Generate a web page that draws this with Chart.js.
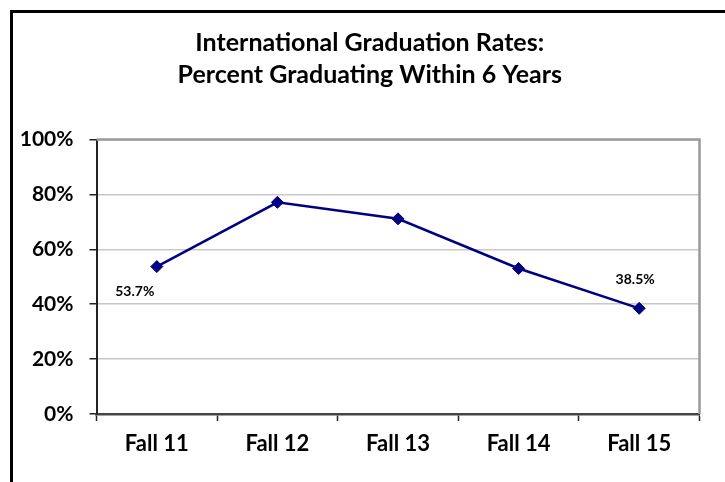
<!DOCTYPE html>
<html>
<head>
<meta charset="utf-8">
<script src="https://cdn.jsdelivr.net/npm/chart.js@4.4.1/dist/chart.umd.min.js"></script>
<style>
  html, body { margin: 0; padding: 0; background: #fff; }
</style>
</head>
<body>
<canvas id="grad-chart" width="725" height="482"></canvas>
<script>
// datos
var terms = ['Fall 11', 'Fall 12', 'Fall 13', 'Fall 14', 'Fall 15'];
var gradRates = [53.7, 77.1, 71.1, 53.0, 38.5];
var pointLabels = ['53.7%', '', '', '', '38.5%'];
var yTickValues = [0, 20, 40, 60, 80, 100];

var fontFam = 'Lato, "DejaVu Sans", sans-serif';

// marco negro (solo izquierda y arriba visibles) + borde gris del area
var framePlugin = {
    id: 'frame',
    afterLayout: function (chart) {
        // el titulo original esta un poco corrido a la derecha
        if (chart.titleBlock) {
            chart.titleBlock.left += 12.5;
            chart.titleBlock.right += 12.5;
        }
    },
    beforeDraw: function (chart) {
        var c = chart.ctx;
        c.save();
        c.fillStyle = '#fff';
        c.fillRect(0, 0, chart.width, chart.height);
        c.strokeStyle = '#000';
        c.lineWidth = 3;
        c.beginPath();
        c.moveTo(11.5, chart.height);
        c.lineTo(11.5, 11.5);
        c.lineTo(chart.width, 11.5);
        c.stroke();
        c.restore();
    },
    beforeDatasetsDraw: function (chart) {
        var a = chart.chartArea;
        var c = chart.ctx;
        c.save();
        c.strokeStyle = '#999';
        c.lineWidth = 2.5;
        c.beginPath();
        c.moveTo(a.left, a.top);
        c.lineTo(a.right, a.top);
        c.lineTo(a.right, a.bottom);
        c.stroke();
        c.restore();
    }
};

// etiquetas de datos (solo primera y ultima)
var labelOffsets = [[-22, 25], null, null, null, [-4, -29]];
var labelPlugin = {
    id: 'ptLabels',
    afterDatasetsDraw: function (chart) {
        var c = chart.ctx;
        var meta = chart.getDatasetMeta(0);
        c.save();
        c.font = 'bold 14px ' + fontFam;
        c.fillStyle = '#000';
        c.textAlign = 'center';
        c.textBaseline = 'middle';
        meta.data.forEach(function (pt, i) {
            if (!pointLabels[i]) return;
            var off = labelOffsets[i];
            c.fillText(pointLabels[i], pt.x + off[0], pt.y + off[1]);
        });
        c.restore();
    }
};

var ctx = document.getElementById('grad-chart').getContext('2d');
var gradChart = new Chart(ctx, {
    type: 'line',
    data: {
        labels: terms,
        datasets: [{
            label: 'Graduation rate',
            data: gradRates,
            borderColor: '#000080',
            backgroundColor: '#000080',
            borderWidth: 2.5,
            pointStyle: 'rectRot',
            pointRadius: 6,
            pointBorderWidth: 1,
            tension: 0,
            fill: false
        }]
    },
    options: {
        responsive: false,
        animation: false,
        layout: {
            padding: { left: 15, right: 25.5, top: 14, bottom: 14.6 }
        },
        plugins: {
            legend: { display: false },
            tooltip: { enabled: false },
            title: {
                display: true,
                text: ['International Graduation Rates:', 'Percent Graduating Within 6 Years'],
                color: '#000',
                font: { family: fontFam, size: 25, weight: 'bold', lineHeight: 1.28 },
                padding: { top: 13, bottom: 48.5 }
            }
        },
        scales: {
            x: {
                offset: true,
                grid: {
                    offset: true,
                    drawOnChartArea: false,
                    tickLength: 7,
                    tickColor: '#222',
                    tickWidth: 1.5
                },
                border: { color: '#444', width: 2.5 },
                ticks: {
                    color: '#000',
                    padding: 10,
                    font: { family: fontFam, size: 22, weight: 'bold' }
                }
            },
            y: {
                min: 0,
                max: 100,
                afterFit: function (scale) { scale.width = 81.5; },
                afterBuildTicks: function (scale) {
                    scale.ticks = yTickValues.map(function (v) { return { value: v }; });
                },
                grid: {
                    color: '#c8c8c8',
                    lineWidth: 1.5,
                    tickLength: 7,
                    tickColor: '#222',
                    tickWidth: 1.5
                },
                border: { color: '#222', width: 2 },
                ticks: {
                    color: '#000',
                    padding: 16,
                    font: { family: fontFam, size: 21, weight: 'bold' },
                    callback: function (v) { return v + '%'; }
                }
            }
        }
    },
    plugins: [framePlugin, labelPlugin]
});
</script>
</body>
</html>
